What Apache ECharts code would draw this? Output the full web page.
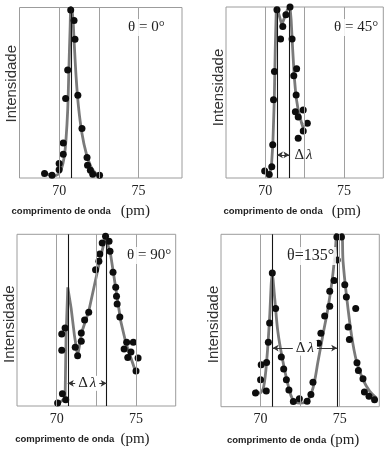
<!DOCTYPE html>
<html><head><meta charset="utf-8">
<script src="https://cdn.jsdelivr.net/npm/echarts@6/dist/echarts.min.js"></script>
<style>html,body{margin:0;padding:0;background:#fff}#c{width:391px;height:460px}</style>
</head><body><div id="c"></div>
<script>
// ---- data (wavelength in pm, intensity in arbitrary units 0..100) ----
const tickLabels = [70, 75];
const gridLambdas = [70, 72.5, 75];
const thetaLabels = ['θ = 0°', 'θ = 45°', 'θ = 90°', 'θ=135°'];

const p1DotX = [69.08, 69.55, 70.0, 70.0, 70.26, 70.26, 70.41, 70.54, 70.73, 70.94, 71.0, 71.18, 71.44, 71.76, 71.79, 71.97, 72.12, 72.55];
const p1DotY = [2.6, 1.6, 8.5, 4.9, 13.9, 20.6, 46.7, 63.4, 98.6, 92.4, 81.4, 48.6, 29.1, 12.0, 7.5, 4.5, 2.2, 1.6];
const p1FitX = [69.19, 69.62, 69.94, 70.15, 70.32, 70.43, 70.54, 70.62, 70.69, 70.75, 70.86, 70.94, 71.07, 71.22, 71.44, 71.71, 72.01, 72.29, 72.54];
const p1FitY = [2.6, 1.2, 2.2, 5.5, 12.4, 22.2, 39.8, 65.3, 86.9, 100, 94.7, 81, 59.4, 41.8, 26.1, 14.4, 6.5, 2.9, 1.6];

const p2DotX = [69.96, 70.25, 70.41, 70.47, 70.52, 70.58, 70.74, 70.97, 71.11, 71.31, 71.57, 71.70, 71.81, 71.99, 71.96, 71.91, 72.09, 72.41, 72.41, 72.67, 72.09];
const p2DotY = [4.1, 2.0, 6.6, 19.5, 45.7, 62.3, 98.4, 81.3, 88.6, 95.5, 100, 81.3, 59.8, 63.9, 48.6, 38.8, 35.6, 39.8, 27.5, 32.0, 23.3];
const p2FitX = [69.89, 70.21, 70.38, 70.48, 70.57, 70.63, 70.69, 70.77, 71.05, 71.40, 71.57, 71.64, 71.74, 71.84, 71.95, 72.09, 72.31, 72.52];
const p2FitY = [4.7, 1.8, 5.7, 20.3, 45.7, 75.0, 96.5, 98.8, 89.6, 98.4, 100, 92.6, 75.0, 59.3, 47.6, 39.8, 32.0, 26.2];

const p3DotX = [70.06, 70.36, 70.57, 70.32, 70.32, 70.53, 71.17, 71.32, 71.55, 71.55, 71.76, 72.02, 72.45, 72.66, 72.72, 72.87, 73.08, 73.30, 73.36, 73.55, 73.72, 73.77, 73.81, 73.98, 74.41, 74.83, 74.25, 74.68, 74.48, 75.13, 75.0];
const p3DotY = [1.7, 7.2, 3.7, 32.4, 41.9, 45.4, 34.2, 29.3, 37.7, 42.5, 50.1, 54.6, 79.4, 84.3, 88.5, 94.9, 98.8, 95.9, 90.1, 77.9, 69.1, 63.9, 59.4, 51.8, 37.1, 37.1, 33.2, 31.4, 28.2, 28.0, 20.4];
const p3FitX = [70.06, 70.53, 70.59, 70.70, 70.91, 71.12, 71.32, 71.60, 72.02, 72.66, 73.08, 73.40, 73.72, 74.04, 74.36, 75.0];
const p3FitY = [1.3, 4.3, 39.6, 69.1, 57.0, 41.0, 29.3, 43.5, 55.2, 82.3, 98.8, 88.1, 68.7, 49.3, 36.7, 19.2];

const p4DotX = [69.68, 70.0, 70.04, 70.36, 70.38, 70.49, 70.57, 70.74, 70.95, 71.31, 71.46, 71.63, 71.79, 72.07, 72.45, 72.94, 73.18, 73.31, 73.66, 73.81, 74.05, 74.37, 74.37, 74.64, 74.84, 74.82, 75.11, 75.32, 75.42, 76.01, 75.53, 75.61, 76.09, 76.18, 76.47, 76.56, 76.85, 77.20];
const p4DotY = [7.9, 15.7, 24.4, 9.1, 25.6, 37.4, 48.5, 77.6, 57.0, 28.9, 21.9, 15.6, 9.7, 3.0, 4.6, 3.1, 7.1, 14.2, 36.8, 42.6, 52.6, 58.3, 67.0, 73.2, 85.1, 98.4, 98.4, 70.7, 63.7, 57.0, 46.2, 39.0, 25.5, 21.0, 16.2, 8.5, 6.1, 4.0];
const p4FitX = [69.68, 69.94, 70.19, 70.40, 70.57, 70.74, 70.89, 71.09, 71.37, 71.73, 72.04, 72.47, 72.93, 73.31, 73.63, 73.94, 74.26, 74.54, 74.75, 74.83, 75.11, 75.21, 75.42, 75.74, 76.06, 76.47, 76.90, 77.32];
const p4FitY = [9.9, 7.9, 11.3, 28.2, 51.5, 76.6, 63.1, 43.7, 28.2, 12.8, 4.1, 2.1, 3.1, 10.8, 26.3, 41.8, 57.3, 74.7, 94.0, 102, 102, 84.3, 65.0, 41.8, 26.3, 15.7, 8.9, 5.0];

// peak positions (unshifted and shifted) drawn as dark lines
const p1Peaks = [70.75];
const p2Peaks = [70.74, 71.53];
const p3Peaks = [70.70, 73.15];
const p4Peaks = [70.76, 74.84];
// height of the Δλ arrow (intensity units)
const deltaArrowY = [null, 13.5, 13.2, 34.0];

// ---- chart ----
const zip = (a, b) => a.map((v, i) => [v, b[i]]);
const SERIF = 'Liberation Serif';
const SANS = 'Liberation Sans';
const panels = [
  {grid: {left: 19.5, top: 7.5, width: 162.5, height: 170.5}, xMax: 77.75, dotX: p1DotX, dotY: p1DotY, fitX: p1FitX, fitY: p1FitY, peaks: p1Peaks, smooth: 0.35, nameShift: 40, pmGap: 10, yShift: [0, 0, 0, 18], title: {left: 126, top: 19, size: 15}},
  {grid: {left: 226, top: 7, width: 157.3, height: 171}, xMax: 77.5, dotX: p2DotX, dotY: p2DotY, fitX: p2FitX, fitY: p2FitY, peaks: p2Peaks, smooth: false, nameShift: 25, pmGap: 9, yShift: [0, 0, 0, 10], title: {left: 332, top: 19, size: 15}, arrow: 'end'},
  {grid: {left: 17, top: 234.3, width: 158.7, height: 171.7}, xMax: 77.5, dotX: p3DotX, dotY: p3DotY, fitX: p3FitX, fitY: p3FitY, peaks: p3Peaks, smooth: false, nameShift: 28, pmGap: 6, yShift: [0, 8, 0, 0], title: {left: 125, top: 247, size: 15}, arrow: 'middle'},
  {grid: {left: 221, top: 234.3, width: 158.3, height: 172.4}, xMax: 77.5, dotX: p4DotX, dotY: p4DotY, fitX: p4FitX, fitY: p4FitY, peaks: p4Peaks, smooth: 0.35, nameShift: 14, pmGap: 4, yShift: [0, 8, 0, 0], title: {left: 285, top: 247, size: 16}, arrow: 'middle'}
];

const option = {
  animation: false,
  backgroundColor: '#fff',
  title: [], grid: [], xAxis: [], yAxis: [], series: []
};

panels.forEach((p, i) => {
  option.grid.push(Object.assign({show: true, borderColor: '#9c9c9c', borderWidth: 1, backgroundColor: 'transparent', containLabel: false}, p.grid));
  option.xAxis.push({
    gridIndex: i, type: 'value', min: 67.5, max: p.xMax, interval: 2.5,
    axisLine: {show: false}, axisTick: {show: false}, splitLine: {show: false},
    axisLabel: {margin: 6, fontFamily: SERIF, fontSize: 14, color: '#222',
      formatter: v => tickLabels.includes(v) ? String(v) : ''},
    name: '{a|comprimento de onda}{b|(pm)}', nameLocation: 'middle', nameGap: 26,
    nameTextStyle: {padding: [0, p.nameShift, 0, 0], rich: {
      a: {fontFamily: SANS, fontSize: 9.5, fontWeight: 'bold', color: '#222'},
      b: {fontFamily: SERIF, fontSize: 15, color: '#222', padding: [0, 0, 0, p.pmGap]}
    }}
  });
  option.yAxis.push({
    gridIndex: i, type: 'value', min: 0, max: 100,
    axisLine: {show: false}, axisTick: {show: false}, splitLine: {show: false}, axisLabel: {show: false},
    name: 'Intensidade', nameLocation: 'middle', nameGap: 0,
    nameTextStyle: {fontFamily: SANS, fontSize: 15, color: '#333', padding: p.yShift}
  });
  option.title.push({
    text: thetaLabels[i], left: p.title.left, top: p.title.top, padding: [1, 2],
    backgroundColor: 'rgba(255,255,255,0.85)',
    textStyle: {fontFamily: SERIF, fontSize: p.title.size, fontWeight: 'normal', color: '#222'}
  });
  // grid lines and peak lines
  const ml = gridLambdas.map(v => ({xAxis: v, lineStyle: {color: '#a0a0a0', width: 1, type: 'solid'}}))
    .concat(p.peaks.map(v => ({xAxis: v, lineStyle: {color: '#151515', width: 1.1, type: 'solid'}})));
  option.series.push({
    type: 'line', xAxisIndex: i, yAxisIndex: i, data: [], z: 1, silent: true,
    markLine: {silent: true, symbol: 'none', label: {show: false}, animation: false, data: ml}
  });
  // fitted curve
  option.series.push({
    type: 'line', xAxisIndex: i, yAxisIndex: i, data: zip(p.fitX, p.fitY), z: 2,
    showSymbol: false, smooth: p.smooth, clip: true, silent: true,
    lineStyle: {color: '#7a7a7a', width: 2.8}
  });
  // measured points
  option.series.push({
    type: 'scatter', xAxisIndex: i, yAxisIndex: i, data: zip(p.dotX, p.dotY), z: 3,
    symbolSize: 7, itemStyle: {color: '#0d0d0d', opacity: 1}, silent: true
  });
  // Δλ arrow
  if (p.arrow) {
    const y = deltaArrowY[i];
    const mid = p.arrow === 'middle';
    option.series.push({
      type: 'line', xAxisIndex: i, yAxisIndex: i, data: [], z: 4, silent: true,
      markLine: {
        silent: true, symbol: ['arrow', 'arrow'], symbolSize: [5, 6], animation: false,
        lineStyle: {color: '#333', width: 1, type: 'solid'},
        label: {show: true, position: p.arrow, distance: mid ? 0 : 5,
          verticalAlign: 'middle',
          formatter: '{d|Δ}{l|λ}',
          backgroundColor: mid ? '#fff' : 'transparent',
          padding: mid ? [0, 3] : 0,
          rich: {d: {fontFamily: SERIF, fontSize: 15, color: '#222'},
                 l: {fontFamily: SERIF, fontSize: 15, fontStyle: 'italic', color: '#222', padding: [0, 0, 0, 2]}}},
        data: [[{coord: [p.peaks[0], y]}, {coord: [p.peaks[1], y]}]]
      }
    });
  }
});

const chart = echarts.init(document.getElementById('c'), null, {renderer: 'canvas'});
chart.setOption(option);
</script>
</body></html>
